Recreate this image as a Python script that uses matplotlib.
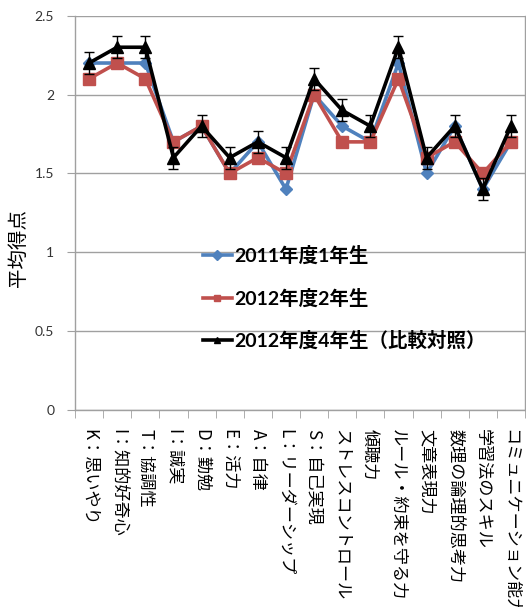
import matplotlib
matplotlib.use("Agg")
import matplotlib.pyplot as plt
from matplotlib.lines import Line2D
import numpy as np

plt.rcParams['font.family'] = ['Lato', 'Noto Sans CJK JP', 'DejaVu Sans']

categories = [
    "K：思いやり", "I：知的好奇心", "T：協調性", "I：誠実", "D：勤勉",
    "E：活力", "A：自律", "L：リーダーシップ", "S：自己実現",
    "ストレスコントロール", "傾聴力", "ルール・約束を守る力", "文章表現力",
    "数理の論理的思考力", "学習法のスキル", "コミュニケーション能力",
]
series_2011_1 = [2.2, 2.2, 2.2, 1.7, 1.8, 1.5, 1.7, 1.4, 2.0, 1.8, 1.7, 2.2, 1.5, 1.8, 1.4, 1.7]
series_2012_2 = [2.1, 2.2, 2.1, 1.7, 1.8, 1.5, 1.6, 1.5, 2.0, 1.7, 1.7, 2.1, 1.6, 1.7, 1.5, 1.7]
series_2012_4 = [2.2, 2.3, 2.3, 1.6, 1.8, 1.6, 1.7, 1.6, 2.1, 1.9, 1.8, 2.3, 1.6, 1.8, 1.4, 1.8]
err_2012_4 = [0.07] * 16
labels = ["2011年度1年生", "2012年度2年生", "2012年度4年生（比較対照）"]
yticks = [0, 0.5, 1, 1.5, 2, 2.5]
ytick_labels = ["0", "0.5", "1", "1.5", "2", "2.5"]

W, H = 526, 607
fig = plt.figure(figsize=(W / 100, H / 100), dpi=100)
left, right, top, bottom = 75, 525, 15.7, 410
ax = fig.add_axes([left / W, 1 - bottom / H, (right - left) / W, (bottom - top) / H])

x = np.arange(len(categories))
grid_c = "#A0A0A0"
styles = [("#4F81BD", "D", 6.5), ("#C0504D", "s", 8), ("black", "^", 8)]

ax.plot(x, series_2011_1, color=styles[0][0], lw=2.6, marker=styles[0][1],
        ms=styles[0][2], zorder=3)
ax.plot(x, series_2012_2, color=styles[1][0], lw=2.6, marker=styles[1][1],
        ms=styles[1][2], zorder=4)
ax.errorbar(x, series_2012_4, yerr=err_2012_4, color=styles[2][0], lw=2.6,
            marker=styles[2][1], ms=styles[2][2], ecolor="black", elinewidth=1,
            capsize=3.5, capthick=1, zorder=5)

ax.set_xlim(-0.5, len(categories) - 0.5)
ax.set_ylim(0, 2.5)
ax.set_yticks(yticks)
ax.set_yticklabels(ytick_labels, fontsize=10, color="#333333")
ax.yaxis.grid(True, color=grid_c, lw=1)
ax.set_axisbelow(True)

ax.set_xticks(x)
ax.set_xticklabels(categories, rotation=-90, fontsize=12.3,
                   family=['Noto Sans CJK JP', 'DejaVu Sans'],
                   va="top", ha="center")
ax.set_xticks(np.arange(-0.5, len(categories)), minor=True)
ax.tick_params(axis="x", which="major", length=0, pad=14)
ax.tick_params(axis="x", which="minor", length=6, color=grid_c, direction="out")
ax.tick_params(axis="y", length=6, color=grid_c, direction="out", pad=9)

ax.spines["top"].set_visible(False)
for side in ["left", "bottom", "right"]:
    ax.spines[side].set_color(grid_c)
    ax.spines[side].set_linewidth(1)

ax.set_ylabel("平均得点", fontsize=14, family=['Noto Sans CJK JP'])
ax.yaxis.set_label_coords(-0.102, 0.41)

handles = [Line2D([], [], color=c, marker=m, ms=5, lw=2.6) for c, m, _ in styles]
leg = ax.legend(handles, labels, loc="center left", bbox_to_anchor=(0.284, 0.284),
                frameon=False, borderaxespad=0, borderpad=0, handlelength=1.5,
                handletextpad=0.12, labelspacing=1.2,
                prop={"weight": "bold", "size": 14,
                      "family": ['Lato', 'Noto Sans CJK JP']})

fig.savefig("out.png", dpi=100)
